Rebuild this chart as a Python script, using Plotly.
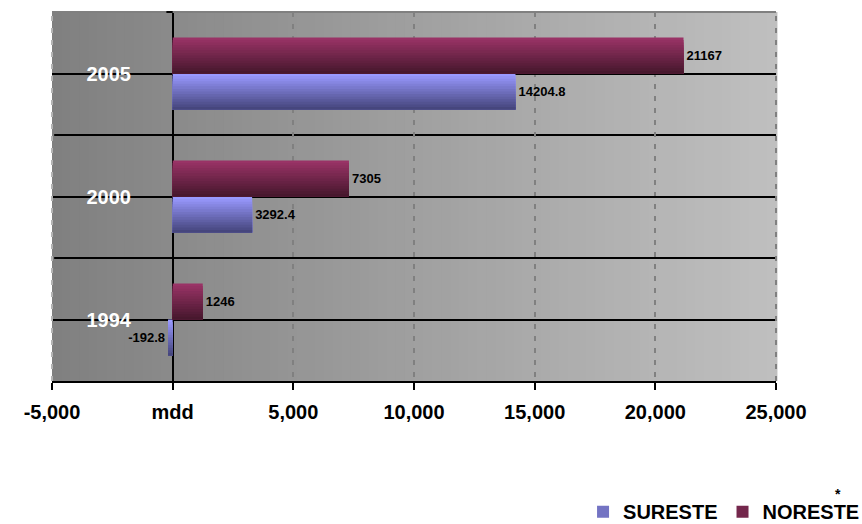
import plotly.graph_objects as go

# ---- data ----
categories = ["1994", "2000", "2005"]
sureste = [-192.8, 3292.4, 14204.8]
noreste = [1246, 7305, 21167]
sureste_labels = ["-192.8", "3292.4", "14204.8"]
noreste_labels = ["1246", "7305", "21167"]
x_tickvals = [-5000, 0, 5000, 10000, 15000, 20000, 25000]
x_ticktext = ["-5,000", "mdd", "5,000", "10,000", "15,000", "20,000", "25,000"]

FONT = "Liberation Sans, Arial, sans-serif"
BAR_W = 0.293  # width of one series band (category units)
N = 14         # gradient steps


def lerp(c0, c1, t):
    return "rgb(%d,%d,%d)" % tuple(round(a + (b - a) * t) for a, b in zip(c0, c1))


fig = go.Figure()


def add_series(name, values, labels, bottom_col, top_col, base_off):
    for k in range(N - 1, -1, -1):
        t = k / (N - 1)
        full = (k == N - 1)
        fig.add_trace(go.Bar(
            x=values, y=categories, orientation="h",
            width=BAR_W * (k + 1) / N, offset=base_off,
            marker=dict(color=lerp(bottom_col, top_col, t), line=dict(width=0)),
            text=labels if full else None,
            textposition="outside" if full else "none",
            textfont=dict(family=FONT, size=13, color="black", weight="bold"),
            constraintext="none", cliponaxis=False,
            name=name, legendgroup=name,
            showlegend=(k == N // 2),
            hoverinfo="skip",
        ))


add_series("SURESTE", sureste, sureste_labels, (70, 70, 125), (153, 153, 255), -BAR_W)
add_series("NORESTE", noreste, noreste_labels, (72, 24, 46), (153, 51, 102), 0.0)

shapes = []
# background gradient
NB = 80
for i in range(NB):
    g = 128 + 64 * (i + 0.5) / NB
    shapes.append(dict(type="rect", xref="x domain", yref="y domain",
                       x0=i / NB, x1=(i + 1) / NB + 0.002, y0=0, y1=1,
                       fillcolor="rgb(%d,%d,%d)" % (g, g, g), line=dict(width=0),
                       layer="below"))
# category boundary lines
for i in range(len(categories) - 1):
    shapes.append(dict(type="line", xref="x domain", yref="y domain", x0=0.003, x1=1,
                       y0=(i + 1) / len(categories), y1=(i + 1) / len(categories),
                       line=dict(color="black", width=2), layer="below"))
# borders
shapes.append(dict(type="line", xref="x domain", yref="y domain", x0=0, x1=1, y0=1, y1=1,
                   line=dict(color="#808080", width=2), layer="above"))
shapes.append(dict(type="line", xref="x domain", yref="y domain", x0=0, x1=0, y0=0, y1=1,
                   line=dict(color="#b4b4b4", width=2, dash="5px,7px"), layer="above"))
shapes.append(dict(type="line", xref="x domain", yref="y domain", x0=1, x1=1, y0=0, y1=1,
                   line=dict(color="#808080", width=2, dash="5px,7px"), layer="above"))
# small tick at the top of the value-zero axis
shapes.append(dict(type="line", xref="x", yref="y domain", x0=-260, x1=0, y0=1, y1=1,
                   line=dict(color="black", width=2), layer="above"))

fig.update_layout(
    width=862, height=524,
    margin=dict(l=52, r=86, t=12, b=143, autoexpand=False),
    paper_bgcolor="white", plot_bgcolor="rgba(0,0,0,0)",
    barmode="overlay",
    shapes=shapes,
    font=dict(family=FONT, color="black"),
    xaxis=dict(
        range=[-5000, 25000], tickvals=x_tickvals, ticktext=x_ticktext,
        showgrid=True, gridcolor="#808080", griddash="5px,7px", gridwidth=2,
        zeroline=True, zerolinecolor="black", zerolinewidth=2,
        showline=True, linecolor="black", linewidth=2,
        ticks="outside", ticklen=7, tickwidth=2, tickcolor="black",
        tickfont=dict(family=FONT, size=20, color="black", weight="bold"),
        ticklabelstandoff=5, automargin=False,
    ),
    yaxis=dict(
        type="category", categoryorder="array", categoryarray=categories,
        range=[-0.5, len(categories) - 0.5],
        anchor="free", position=0.109,
        showline=False, ticks="", zeroline=False,
        showgrid=True, gridcolor="black", gridwidth=2,
        tickfont=dict(family=FONT, size=20, color="white", weight="bold"),
        automargin=False,
    ),
    legend=dict(
        orientation="h", xref="paper", yref="paper",
        x=1.123, xanchor="right", y=-0.354, yanchor="middle",
        font=dict(family=FONT, size=20, color="black", weight="bold"),
        bgcolor="rgba(0,0,0,0)", traceorder="normal",
    ),
    annotations=[dict(
        text="*", xref="paper", yref="paper", x=1.0856, y=-0.3335,
        xanchor="center", yanchor="bottom", showarrow=False,
        font=dict(family=FONT, size=14, color="black", weight="bold"),
    )],
)

fig.write_html("out.html")
